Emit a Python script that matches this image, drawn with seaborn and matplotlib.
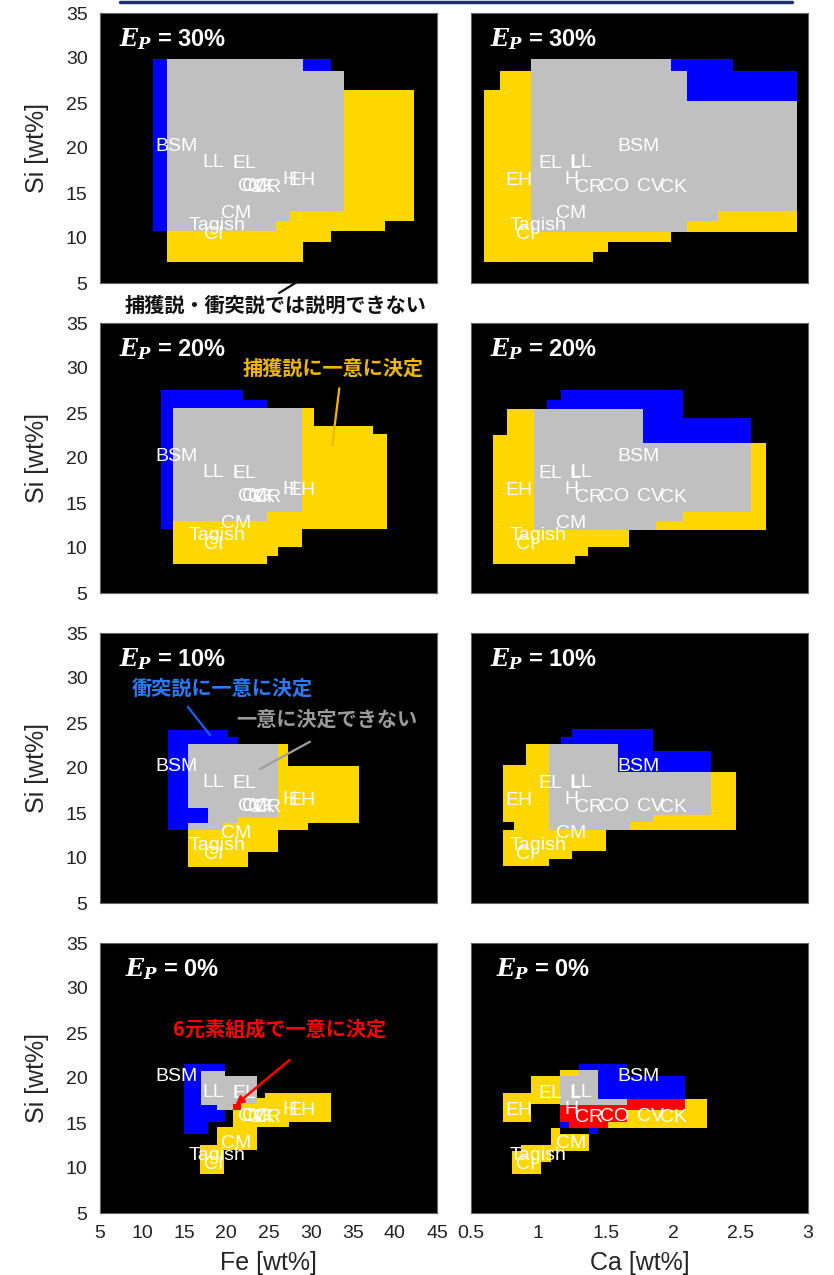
import numpy as np
import matplotlib
matplotlib.use("Agg")
import matplotlib.pyplot as plt
import seaborn as sns
from matplotlib.lines import Line2D

# ---------------- data ----------------
EP_LEVELS = ["30%", "20%", "10%", "0%"]

# colours of the classification regions
C_YELLOW = "#FFD700"   # capture only
C_BLUE = "#0000FF"     # impact only
C_GREY = "#C0C0C0"     # both
C_RED = "#FF0000"      # unique from 6-element composition

# rectangles: (x0, x1, Si0, Si1)   x = Fe [wt%] (left) or Ca [wt%] (right)
FE30_YELLOW = [(12.92, 29.12, 7.33, 29.89), (29.12, 32.37, 9.56, 28.59), (32.37, 33.99, 10.74, 28.59),
               (33.99, 38.86, 10.74, 26.41), (38.86, 42.31, 11.85, 26.41)]
FE30_BLUE = [(11.30, 12.92, 10.74, 29.89), (29.12, 32.37, 28.59, 29.89)]
FE30_GREY = [(12.92, 25.91, 10.74, 29.89), (25.91, 27.53, 11.85, 29.89), (27.53, 29.12, 12.96, 29.89),
             (29.12, 33.99, 12.96, 28.59)]

CA30_YELLOW = [(0.596, 0.712, 7.33, 26.41), (0.712, 0.942, 7.33, 28.59), (0.942, 1.403, 7.33, 29.89),
               (1.403, 1.519, 8.44, 29.89), (1.519, 1.981, 9.56, 29.89), (2.099, 2.329, 10.67, 11.85),
               (2.329, 2.916, 10.67, 12.96)]
CA30_BLUE = [(1.981, 2.442, 25.26, 29.89), (2.442, 2.916, 25.26, 28.59)]
CA30_GREY = [(0.942, 1.981, 10.67, 29.89), (1.981, 2.099, 10.67, 28.59), (2.099, 2.329, 11.85, 25.26),
             (2.329, 2.916, 12.96, 25.26)]

FE20_YELLOW = [(13.62, 24.78, 8.19, 14.0), (24.78, 26.17, 9.11, 14.04), (26.17, 29.0, 10.07, 14.04),
               (29.0, 30.39, 12.07, 25.52), (30.39, 37.43, 12.07, 23.56), (37.43, 39.03, 12.07, 22.63)]
FE20_BLUE = [(12.24, 13.62, 12.07, 27.56), (13.62, 21.93, 25.0, 27.56), (21.93, 24.78, 25.0, 26.44)]
FE20_GREY = [(13.62, 24.78, 13.03, 25.52), (24.78, 29.0, 14.04, 25.52)]

CA20_YELLOW = [(0.663, 0.769, 8.22, 22.6), (0.769, 0.966, 8.22, 25.48), (0.966, 1.268, 8.22, 14.0),
               (1.268, 1.369, 9.15, 14.0), (1.369, 1.670, 10.1, 14.0), (1.872, 2.075, 12.04, 14.0),
               (2.075, 2.580, 12.04, 15.0), (2.580, 2.689, 12.04, 21.67)]
CA20_BLUE = [(1.065, 1.169, 24.0, 26.48), (1.169, 2.075, 20.0, 27.6), (2.075, 2.580, 20.0, 24.5)]
CA20_GREY = [(0.966, 1.773, 12.04, 25.48), (1.773, 1.872, 12.04, 21.67), (1.872, 2.075, 12.96, 21.67),
             (2.075, 2.580, 14.0, 21.67)]

FE10_YELLOW = [(15.49, 19.64, 9.04, 13.11), (19.64, 21.34, 9.04, 13.86), (21.34, 22.53, 9.04, 14.56),
               (22.53, 26.17, 10.7, 14.56), (26.17, 27.27, 13.11, 22.67), (27.27, 29.65, 13.11, 20.26),
               (29.65, 35.74, 13.86, 20.26)]
FE10_BLUE = [(13.11, 15.49, 13.11, 24.22), (15.49, 20.23, 22.0, 24.22), (20.23, 21.34, 22.0, 23.48),
             (15.49, 17.86, 13.86, 15.52)]
FE10_GREY = [(15.49, 26.17, 15.52, 22.67), (17.86, 21.34, 13.86, 15.52), (15.49, 19.64, 13.11, 13.86),
             (21.34, 26.17, 14.56, 15.52)]

CA10_YELLOW = [(0.734, 0.821, 14.0, 20.3), (0.734, 0.821, 9.07, 13.07), (0.821, 0.907, 9.07, 20.3),
               (0.907, 1.078, 9.07, 22.7), (1.078, 1.250, 9.93, 13.07), (1.250, 1.504, 10.74, 13.07),
               (1.680, 2.279, 13.07, 15.0), (2.279, 2.464, 13.07, 19.52)]
CA10_BLUE = [(1.164, 1.250, 22.0, 23.5), (1.250, 1.850, 19.52, 24.33), (1.850, 2.279, 19.52, 21.93)]
CA10_GREY = [(1.078, 1.593, 13.07, 22.7), (1.593, 1.680, 13.07, 19.52), (1.680, 1.850, 13.96, 19.52),
             (1.850, 2.279, 14.74, 19.52)]

FE0_YELLOW = [(20.84, 23.6, 14.52, 17.15), (23.6, 24.6, 14.52, 17.78), (24.6, 27.46, 14.52, 18.33),
              (27.46, 32.45, 15.1, 18.33), (18.86, 23.6, 11.96, 14.52), (16.88, 19.77, 9.37, 12.6)]
FE0_BLUE = [(15.0, 17.86, 13.78, 21.52), (17.86, 19.84, 15.15, 21.52)]
FE0_GREY = [(16.99, 18.86, 17.0, 20.81), (18.86, 19.84, 16.44, 20.81), (19.84, 20.84, 16.44, 20.22),
            (20.84, 23.6, 17.15, 20.22)]
FE0_RED = [(20.84, 21.71, 16.44, 17.15)]

CA0_YELLOW = [(0.735, 0.945, 15.15, 18.3), (0.945, 1.16, 17.07, 20.22), (1.16, 1.303, 17.07, 20.89),
              (1.519, 1.66, 14.5, 15.15), (1.66, 2.088, 14.5, 16.44), (2.088, 2.248, 14.5, 17.67),
              (1.09, 1.16, 11.89, 14.48), (1.16, 1.375, 11.89, 13.8), (0.804, 0.873, 9.37, 11.85),
              (0.873, 1.016, 9.37, 12.6), (1.016, 1.09, 10.67, 12.6)]
CA0_BLUE = [(1.303, 1.66, 17.0, 21.52), (1.66, 2.088, 17.67, 20.22), (1.16, 1.23, 14.5, 15.15),
            (1.375, 1.445, 13.8, 14.5)]
CA0_GREY = [(1.16, 1.303, 17.0, 20.22), (1.303, 1.445, 17.0, 20.89), (1.445, 1.66, 17.0, 17.67)]
CA0_RED = [(1.16, 1.23, 15.15, 17.0), (1.23, 1.375, 14.5, 17.0), (1.375, 1.519, 14.5, 17.0),
           (1.519, 1.66, 15.15, 17.0), (1.66, 2.088, 16.44, 17.67)]

# meteorite group labels
GROUPS = ["BSM", "LL", "L", "EL", "H", "EH", "CV", "CO", "CK", "CR", "CM", "Tagish", "CI"]
GROUP_FE = [14.07, 18.47, 21.36, 22.1, 27.5, 29.0, 23.0, 23.6, 24.2, 24.8, 21.16, 18.94, 18.47]
GROUP_CA = [1.739, 1.317, 1.272, 1.087, 1.248, 0.853, 1.835, 1.564, 2.003, 1.379, 1.243, 0.996, 0.905]
GROUP_SI = [20.35, 18.6, 18.45, 18.45, 16.75, 16.6, 15.9, 15.9, 15.85, 15.8, 12.96, 11.59, 10.56]

FE_TICKS = [5, 10, 15, 20, 25, 30, 35, 40, 45]
CA_TICKS = [0.5, 1.0, 1.5, 2.0, 2.5, 3.0]
CA_TICKLABELS = ["0.5", "1", "1.5", "2", "2.5", "3"]
SI_TICKS = [5, 10, 15, 20, 25, 30, 35]

# ---------------- style ----------------
sns.set_style("white")
plt.rcParams["font.family"] = ["Liberation Sans", "Noto Sans CJK JP", "DejaVu Sans"]
plt.rcParams["mathtext.fontset"] = "custom"
plt.rcParams["mathtext.it"] = "DejaVu Serif:italic:bold"
plt.rcParams["mathtext.rm"] = "DejaVu Serif:bold"

W, H = 834, 1275
fig = plt.figure(figsize=(W / 100, H / 100), dpi=100)

def fx(px):
    return px / W

def fy(py):
    return 1 - py / H

LEFT_X, RIGHT_X, AX_W, AX_H = 100, 471, 337, 270
ROW_TOPS = [13, 323, 633, 943]

PANELS_FE = [
    [(C_YELLOW, FE30_YELLOW), (C_BLUE, FE30_BLUE), (C_GREY, FE30_GREY)],
    [(C_YELLOW, FE20_YELLOW), (C_BLUE, FE20_BLUE), (C_GREY, FE20_GREY)],
    [(C_YELLOW, FE10_YELLOW), (C_BLUE, FE10_BLUE), (C_GREY, FE10_GREY)],
    [(C_YELLOW, FE0_YELLOW), (C_BLUE, FE0_BLUE), (C_GREY, FE0_GREY), (C_RED, FE0_RED)],
]
PANELS_CA = [
    [(C_YELLOW, CA30_YELLOW), (C_BLUE, CA30_BLUE), (C_GREY, CA30_GREY)],
    [(C_YELLOW, CA20_YELLOW), (C_BLUE, CA20_BLUE), (C_GREY, CA20_GREY)],
    [(C_YELLOW, CA10_YELLOW), (C_BLUE, CA10_BLUE), (C_GREY, CA10_GREY)],
    [(C_YELLOW, CA0_YELLOW), (C_BLUE, CA0_BLUE), (C_GREY, CA0_GREY), (C_RED, CA0_RED)],
]


def draw_panel(ax, layers, xs, xlim, xticks, xticklabels, ep, left, bottom):
    ax.set_facecolor("black")
    for color, rects in layers:
        arr = np.array(rects, dtype=float)
        ax.bar(arr[:, 0], arr[:, 3] - arr[:, 2], width=arr[:, 1] - arr[:, 0], bottom=arr[:, 2],
               align="edge", color=color, edgecolor="none", linewidth=0, antialiased=False,
               zorder=2)
    for name, x, y in zip(GROUPS, xs, GROUP_SI):
        ax.text(x, y, name, color="white", fontsize=14, ha="center", va="center_baseline",
                family="Liberation Sans", zorder=5)
    ax.text(0.215, 0.905, r"$E_P$ = " + ep, transform=ax.transAxes, color="white", fontsize=17,
            fontweight="bold", ha="center", va="center", zorder=6)
    ax.set_xlim(*xlim)
    ax.set_ylim(5, 35)
    ax.set_yticks(SI_TICKS)
    ax.set_xticks(xticks)
    ax.set_xticklabels(xticklabels if bottom else [])
    if left:
        ax.set_yticklabels([str(t) for t in SI_TICKS])
        ax.set_ylabel("Si [wt%]", fontsize=18)
        ax.yaxis.set_label_coords(-0.15, 0.5)
    else:
        ax.set_yticklabels([])
    ax.tick_params(length=0, labelsize=14, pad=9, colors="#222222")
    ax.grid(False)
    for s in ax.spines.values():
        s.set_color("#666666")
        s.set_linewidth(0.8)


for i, ep in enumerate(EP_LEVELS):
    top = ROW_TOPS[i]
    bottom_frac = 1 - (top + AX_H) / H
    axl = fig.add_axes([LEFT_X / W, bottom_frac, AX_W / W, AX_H / H])
    draw_panel(axl, PANELS_FE[i], GROUP_FE, (5, 45), FE_TICKS, [str(t) for t in FE_TICKS], ep,
               True, i == 3)
    axr = fig.add_axes([RIGHT_X / W, bottom_frac, AX_W / W, AX_H / H])
    draw_panel(axr, PANELS_CA[i], GROUP_CA, (0.5, 3.0), CA_TICKS, CA_TICKLABELS, ep, False, i == 3)
    if i == 3:
        axl.set_xlabel("Fe [wt%]", fontsize=18)
        axl.xaxis.set_label_coords(0.5, -0.14)
        axr.set_xlabel("Ca [wt%]", fontsize=18)
        axr.xaxis.set_label_coords(0.5, -0.14)

# top rule line
fig.add_artist(Line2D([fx(120), fx(792)], [fy(1.5), fy(1.5)], color="#1c3370", lw=2.5))

JP = ["Noto Sans CJK JP", "DejaVu Sans"]

def jp_text(x, y, s, color):
    fig.text(fx(x), fy(y), s, color=color, fontsize=14.5, fontweight="bold", family=JP,
             ha="center", va="center")

def seg(p0, p1, color, lw=1.6):
    fig.add_artist(Line2D([fx(p0[0]), fx(p1[0])], [fy(p0[1]), fy(p1[1])], color=color, lw=lw))

jp_text(275.5, 305, "捕獲説・衝突説では説明できない", "#111111")
seg((279, 293), (297, 282), "#111111")

jp_text(333, 368, "捕獲説に一意に決定", "#F2B600")
seg((339.3, 388.3), (332.3, 445), "#F2B600")

jp_text(222.5, 688, "衝突説に一意に決定", "#2a7bff")
seg((187.7, 706.7), (210, 735), "#1560ff")

jp_text(326.5, 719, "一意に決定できない", "#9a9a9a")
seg((310, 741.7), (260, 769), "#a0a0a0")

jp_text(279.5, 1029, "6元素組成で一意に決定", "#FF0000")
fig.add_artist(matplotlib.patches.FancyArrowPatch(
    (fx(291.7), fy(1058.3)), (fx(233.3), fy(1106.7)), transform=fig.transFigure,
    arrowstyle="-|>", mutation_scale=12, color="#FF0000", lw=1.8))

fig.savefig("out.png", dpi=100, facecolor="white")
